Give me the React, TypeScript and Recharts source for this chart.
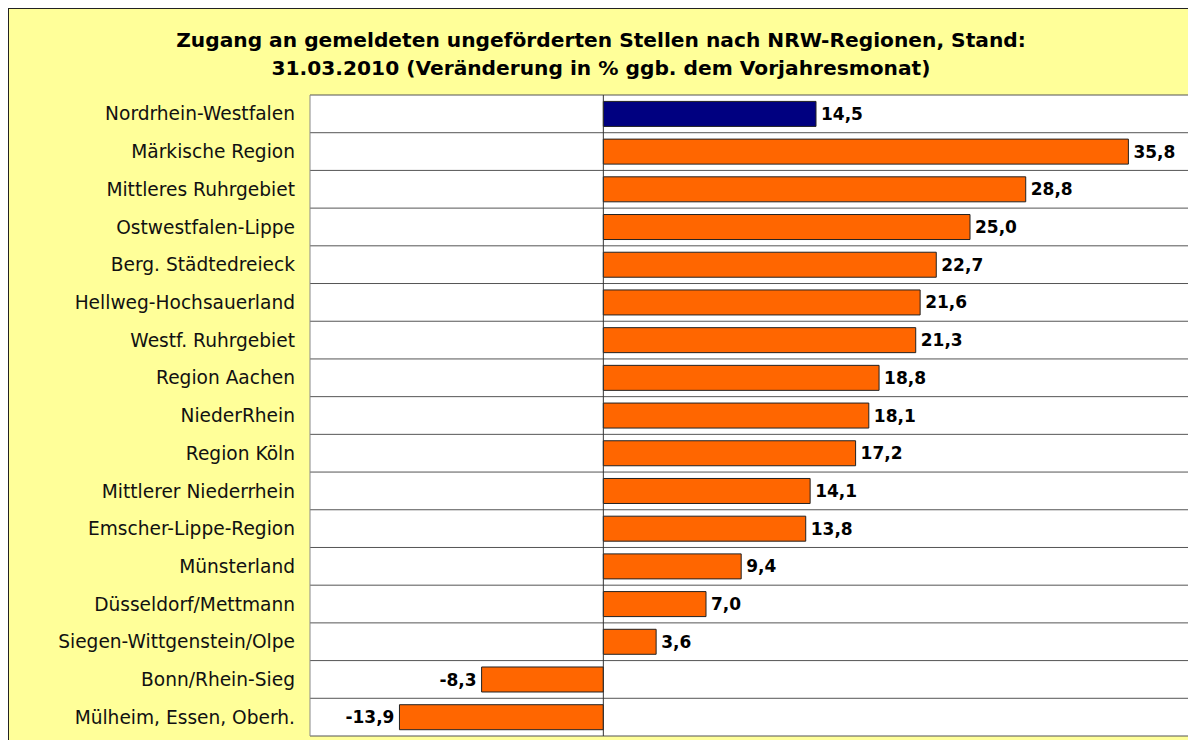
import { Bar, BarChart, CartesianGrid, Cell, LabelList, ReferenceLine, XAxis, YAxis } from "recharts";

const regions = [
	"Nordrhein-Westfalen",
	"Märkische Region",
	"Mittleres Ruhrgebiet",
	"Ostwestfalen-Lippe",
	"Berg. Städtedreieck",
	"Hellweg-Hochsauerland",
	"Westf. Ruhrgebiet",
	"Region Aachen",
	"NiederRhein",
	"Region Köln",
	"Mittlerer Niederrhein",
	"Emscher-Lippe-Region",
	"Münsterland",
	"Düsseldorf/Mettmann",
	"Siegen-Wittgenstein/Olpe",
	"Bonn/Rhein-Sieg",
	"Mülheim, Essen, Oberh.",
];

const changes = [14.5, 35.8, 28.8, 25.0, 22.7, 21.6, 21.3, 18.8, 18.1, 17.2, 14.1, 13.8, 9.4, 7.0, 3.6, -8.3, -13.9];

const data = regions.map((name, i) => ({ name, value: changes[i] }));

const FONT = "'DejaVu Sans', sans-serif";

const fmt = (v: unknown) => Number(v).toFixed(1).replace(".", ",");

export default function App() {
	return (
		<div
			style={{
				width: 1188,
				height: 732,
				background: "#FFFF99",
				borderLeft: "1px solid #222",
				borderTop: "1px solid #222",
				boxSizing: "border-box",
				position: "relative",
				fontFamily: FONT,
				overflow: "hidden",
			}}
		>
			<div
				style={{
					position: "absolute",
					left: 0,
					width: 1184,
					top: 17,
					textAlign: "center",
					fontSize: 20.2,
					fontWeight: 700,
					lineHeight: "28px",
					color: "#000",
				}}
			>
				Zugang an gemeldeten ungeförderten Stellen nach NRW-Regionen, Stand:
				<br />
				31.03.2010 (Veränderung in % ggb. dem Vorjahresmonat)
			</div>
			<BarChart
				width={1187}
				height={731}
				data={data}
				layout="vertical"
				margin={{ top: 86, right: 6, bottom: 4, left: 0 }}
				barCategoryGap="17%"
				style={{ position: "absolute", left: 0, top: 0 }}
			>
				<CartesianGrid
					vertical={false}
					fill="#fff"
					stroke="#555"
					horizontalCoordinatesGenerator={({ offset }: any) =>
						Array.from({ length: regions.length + 1 }, (_, i) => offset.top + (i * offset.height) / regions.length)
					}
				/>
				<XAxis type="number" domain={[-20, 40]} hide />
				<YAxis
					type="category"
					dataKey="name"
					width={301}
					axisLine={false}
					tickLine={false}
					tickSize={0}
					tickMargin={15}
					tick={{ fontSize: 18.6, fill: "#111", fontFamily: FONT }}
					interval={0}
				/>
				<ReferenceLine x={-20} stroke="#888" />
				<ReferenceLine x={40} stroke="#999" strokeWidth={3} />
				<ReferenceLine x={0} stroke="#333" />
				<Bar dataKey="value" stroke="#222" strokeWidth={1} isAnimationActive={false}>
					{data.map((d, i) => (
						<Cell key={d.name} fill={i === 0 ? "#000080" : "#FF6600"} />
					))}
					<LabelList
						dataKey="value"
						position="right"
						offset={5}
						formatter={fmt}
						style={{ fontSize: 17, fontWeight: 700, fill: "#000", fontFamily: FONT }}
					/>
				</Bar>
			</BarChart>
		</div>
	);
}
